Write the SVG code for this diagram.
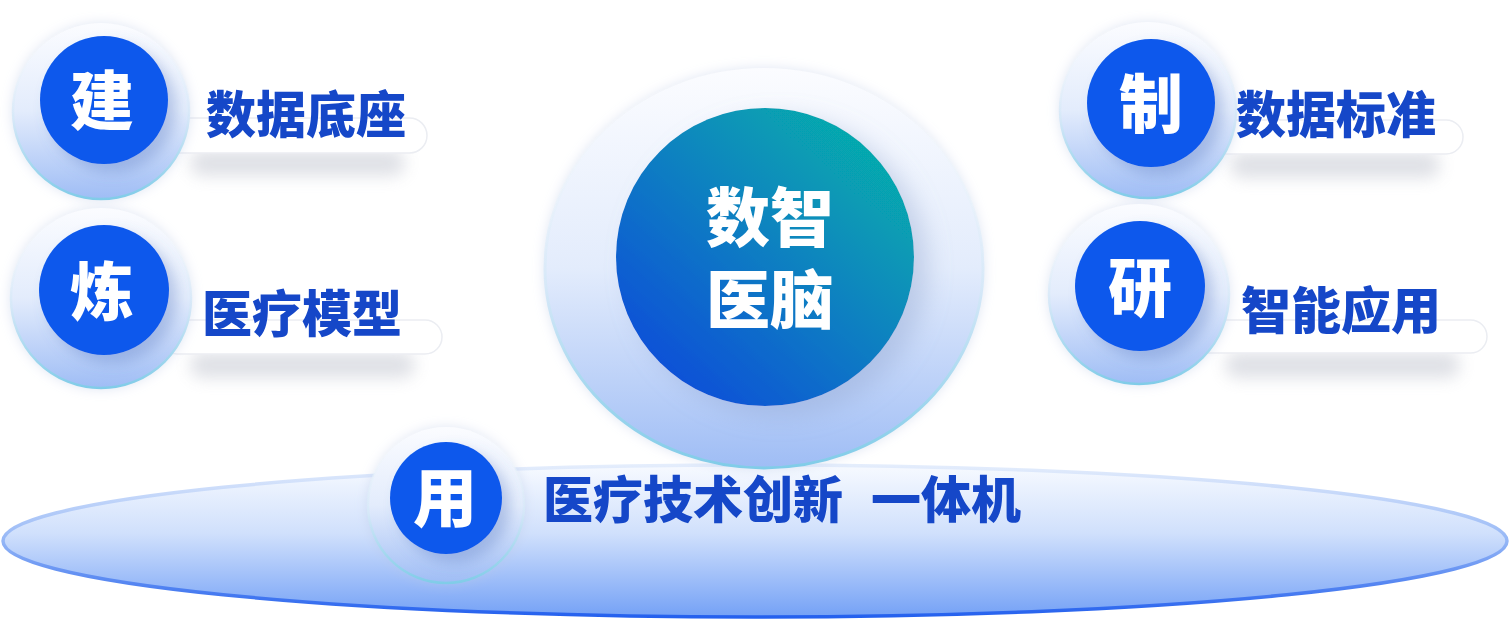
<svg xmlns="http://www.w3.org/2000/svg" width="1510" height="620" viewBox="0 0 1510 620">
<defs>
  <linearGradient id="ringFill" x1="0" y1="0" x2="0" y2="1">
    <stop offset="0" stop-color="#fbfcff"/>
    <stop offset="0.5" stop-color="#e3ecfc"/>
    <stop offset="1" stop-color="#9fbdf5"/>
  </linearGradient>
  <linearGradient id="ringStroke" x1="0" y1="0" x2="0" y2="1">
    <stop offset="0" stop-color="#ffffff" stop-opacity="0"/>
    <stop offset="0.55" stop-color="#d6e8f8"/>
    <stop offset="1" stop-color="#80cce8"/>
  </linearGradient>
  <linearGradient id="coreFill" x1="0.85" y1="0.1" x2="0.15" y2="0.9">
    <stop offset="0" stop-color="#06abad"/>
    <stop offset="1" stop-color="#0c4fd8"/>
  </linearGradient>
  <linearGradient id="baseFill" x1="0" y1="0" x2="0" y2="1">
    <stop offset="0" stop-color="#f7faff"/>
    <stop offset="0.45" stop-color="#d0e0fc"/>
    <stop offset="1" stop-color="#74a1f6"/>
  </linearGradient>
  <linearGradient id="baseStroke" x1="0" y1="0" x2="0" y2="1">
    <stop offset="0" stop-color="#e4edfc"/>
    <stop offset="0.5" stop-color="#94b6f6"/>
    <stop offset="1" stop-color="#2460ee"/>
  </linearGradient>
  <filter id="glow" x="-30%" y="-30%" width="160%" height="160%">
    <feDropShadow dx="0" dy="0" stdDeviation="6" flood-color="#b9c8e6" flood-opacity="0.45"/>
  </filter>
  <filter id="innerShadow" x="-30%" y="-30%" width="160%" height="160%">
    <feDropShadow dx="8" dy="8" stdDeviation="7" flood-color="#5a78c0" flood-opacity="0.35"/>
  </filter>
  <filter id="coreShadow" x="-30%" y="-30%" width="160%" height="160%">
    <feDropShadow dx="14" dy="10" stdDeviation="12" flood-color="#8fa3cc" flood-opacity="0.4"/>
  </filter>
  <filter id="blur8" x="-20%" y="-100%" width="140%" height="300%">
    <feGaussianBlur stdDeviation="8"/>
  </filter>
  <style>
    .ring { fill: url(#ringFill); stroke: url(#ringStroke); stroke-width: 2.5; filter: url(#glow); }
    .dot { fill: #0a59ec; filter: url(#innerShadow); }
    .pill { fill: #ffffff; stroke: #ebedf2; stroke-width: 1.5; }
    .pillShadow { fill: #b8bcc8; opacity: 0.45; filter: url(#blur8); }
    .glyph { font-family: "Noto Sans CJK SC", "Noto Sans CJK JP", sans-serif; font-weight: 900; fill: #ffffff; text-anchor: middle; font-size: 64px; }
    .label { font-family: "Noto Sans CJK SC", "Noto Sans CJK JP", sans-serif; font-weight: 900; fill: #1547c8; font-size: 50px; }
    .core { font-family: "Noto Sans CJK SC", "Noto Sans CJK JP", sans-serif; font-weight: 900; fill: #ffffff; text-anchor: middle; font-size: 64px; }
  </style>
</defs>

<rect width="1510" height="620" fill="#ffffff"/>

<g id="base">
  <ellipse cx="755" cy="541" rx="752" ry="76" fill="url(#baseFill)" stroke="url(#baseStroke)" stroke-width="3.5"/>
</g>

<g id="center-node">
  <ellipse cx="764" cy="268" rx="219" ry="200" fill="url(#ringFill)" stroke="url(#ringStroke)" stroke-width="3" filter="url(#glow)"/>
  <circle cx="765" cy="257" r="149" fill="url(#coreFill)" filter="url(#coreShadow)"/>
  <text class="core" x="770" y="241">数智<tspan x="770" dy="82">医脑</tspan></text>
</g>

<g id="node-jian">
  <rect class="pillShadow" x="190" y="150" width="215" height="26" rx="13"/>
  <rect class="pill" x="160" y="118" width="267" height="35" rx="17.5"/>
  <circle class="ring" cx="101" cy="111" r="88"/>
  <circle class="dot" cx="104" cy="100" r="64"/>
  <text class="glyph" x="102" y="124">建</text>
  <text class="label" x="206" y="133">数据底座</text>
</g>

<g id="node-lian">
  <rect class="pillShadow" x="190" y="352" width="225" height="26" rx="13"/>
  <rect class="pill" x="160" y="320" width="282" height="34" rx="17"/>
  <circle class="ring" cx="101" cy="298" r="90"/>
  <circle class="dot" cx="104" cy="290" r="65"/>
  <text class="glyph" x="102" y="315">炼</text>
  <text class="label" x="202" y="332">医疗模型</text>
</g>

<g id="node-zhi">
  <rect class="pillShadow" x="1230" y="152" width="210" height="26" rx="13"/>
  <rect class="pill" x="1200" y="120" width="263" height="34" rx="17"/>
  <circle class="ring" cx="1148" cy="110" r="88"/>
  <circle class="dot" cx="1151" cy="103" r="64"/>
  <text class="glyph" x="1151" y="127">制</text>
  <text class="label" x="1236" y="133">数据标准</text>
</g>

<g id="node-yan">
  <rect class="pillShadow" x="1225" y="352" width="235" height="26" rx="13"/>
  <rect class="pill" x="1190" y="320" width="297" height="33" rx="16.5"/>
  <circle class="ring" cx="1139" cy="294" r="90"/>
  <circle class="dot" cx="1140" cy="286" r="65"/>
  <text class="glyph" x="1140" y="311">研</text>
  <text class="label" x="1241" y="329">智能应用</text>
</g>

<g id="node-yong">
  <circle class="ring" cx="446" cy="505" r="78"/>
  <circle class="dot" cx="446" cy="498" r="56"/>
  <text class="glyph" x="445" y="521">用</text>
  <text class="label" x="543" y="518">医疗技术创新<tspan x="871">一体机</tspan></text>
</g>

<g id="connectors"/>
</svg>
